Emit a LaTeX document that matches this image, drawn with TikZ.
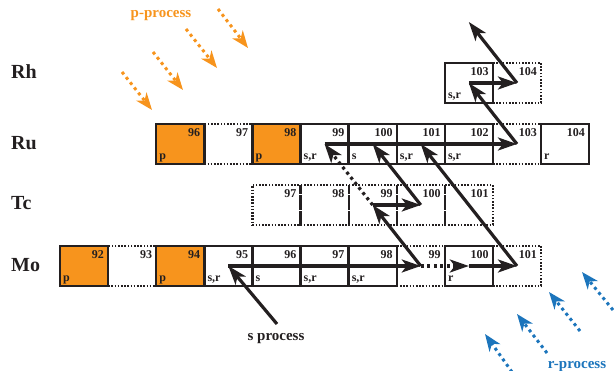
\documentclass[tikz,border=0pt]{standalone}
\usepackage{fontspec}
\setmainfont{Liberation Serif}
\usetikzlibrary{arrows.meta}
\definecolor{porange}{HTML}{F7941D}
\definecolor{rblue}{HTML}{1C75BC}
\definecolor{ink}{HTML}{231F20}
\newcommand\isocell[6]{%
  \node[#2] (#1) at (#3,#4) {};
  \node[numlab] (#1n) at ([xshift=-4pt,yshift=-4pt]#1.north east) {#5};
  \node[lowlab] (#1l) at ([xshift=3pt,yshift=4pt]#1.south west) {#6};
}
\begin{document}
\begin{tikzpicture}[x=1pt,y=-1pt,
  cellbox/.style={minimum width=48.1pt,minimum height=40pt,inner sep=0pt,outer sep=0pt,anchor=north west},
  solidcell/.style={cellbox,draw=ink,line width=2.4pt},
  dotcell/.style={cellbox,draw=ink,line width=2.2pt,dash pattern=on 1.6pt off 1.6pt},
  pcell/.style={solidcell,fill=porange},
  numlab/.style={font=\fontsize{12}{12}\selectfont\bfseries,text=ink,inner sep=0pt,anchor=north east},
  lowlab/.style={font=\fontsize{12}{12}\selectfont\bfseries,text=ink,inner sep=0pt,anchor=base west},
  elem/.style={font=\fontsize{20}{20}\selectfont\bfseries,text=ink,inner sep=0pt,anchor=base west},
  proclab/.style={font=\fontsize{15}{15}\selectfont\bfseries,inner sep=0pt},
  arr/.style={draw=ink,line width=3.2pt,-{Stealth[length=19pt,width=13pt,inset=5pt]}},
  dotarr/.style={arr,dash pattern=on 3pt off 3.5pt},
  parr/.style={draw=porange,line width=3pt,dash pattern=on 3pt off 3.6pt,-{Stealth[length=17pt,width=13pt,inset=5pt]}},
  rarr/.style={draw=rblue,line width=3pt,dash pattern=on 3pt off 3.6pt,-{Stealth[length=17pt,width=13pt,inset=5pt]}}
]
\useasboundingbox (0,0) rectangle (614,371);

% element labels
\node[elem] (lRh) at (11,78.6) {Rh};
\node[elem] (lRu) at (11,150) {Ru};
\node[elem] (lTc) at (11,210) {Tc};
\node[elem] (lMo) at (11,271.5) {Mo};

% solid cells first
\isocell{rh103}{solidcell}{444.8}{63}{103}{s,r}
\isocell{ru96}{pcell}{156.2}{124}{96}{p}
\isocell{ru98}{pcell}{252.4}{124}{98}{p}
\isocell{ru99}{solidcell}{300.5}{124}{99}{s,r}
\isocell{ru100}{solidcell}{348.6}{124}{100}{s}
\isocell{ru101}{solidcell}{396.7}{124}{101}{s,r}
\isocell{ru102}{solidcell}{444.8}{124}{102}{s,r}
\isocell{ru104}{solidcell}{541.0}{124}{104}{r}
\isocell{mo92}{pcell}{60}{246}{92}{p}
\isocell{mo94}{pcell}{156.2}{246}{94}{p}
\isocell{mo95}{solidcell}{204.3}{246}{95}{s,r}
\isocell{mo96}{solidcell}{252.4}{246}{96}{s}
\isocell{mo97}{solidcell}{300.5}{246}{97}{s,r}
\isocell{mo98}{solidcell}{348.6}{246}{98}{s,r}
\isocell{mo100}{solidcell}{444.8}{246}{100}{r}

% dotted cells
\isocell{rh104}{dotcell}{492.9}{63}{104}{}
\isocell{ru97}{dotcell}{204.3}{124}{97}{}
\isocell{ru103}{dotcell}{492.9}{124}{103}{}
\isocell{tc97}{dotcell}{252.4}{185}{97}{}
\isocell{tc98}{dotcell}{300.5}{185}{98}{}
\isocell{tc99}{dotcell}{348.6}{185}{99}{}
\isocell{tc100}{dotcell}{396.7}{185}{100}{}
\isocell{tc101}{dotcell}{444.8}{185}{101}{}
\isocell{mo93}{dotcell}{108.1}{246}{93}{}
\isocell{mo99}{dotcell}{396.7}{246}{99}{}
\isocell{mo101}{dotcell}{492.9}{246}{101}{}

% reaction path
\coordinate (pd104) at ([xshift=-48.1pt,yshift=61pt]rh104.center);
\draw[arr] (mo95.center) -- (mo99.center);
\draw[dotarr] (mo99.center) -- (mo100.center);
\draw[arr] (mo100.center) -- (mo101.center);
\draw[arr] (mo99.center) -- (tc99.center);
\draw[arr] (tc99.center) -- (tc100.center);
\draw[arr] (tc100.center) -- (ru100.center);
\draw[dotarr] (tc99.center) -- (ru99.center);
\draw[arr] (mo101.center) -- (ru101.center);
\draw[arr] (ru99.center) -- (ru103.center);
\draw[arr] (ru103.center) -- (rh103.center);
\draw[arr] (rh103.center) -- (rh104.center);
\draw[arr] (rh104.center) -- (pd104);

% s process
\node[proclab,text=ink] (sproc) at (276,339) {s process};
\coordinate (sstart) at (277,324);
\draw[arr] (sstart) -- (mo95.center);

% p process
\node[proclab,text=porange] (pproc) at (161,16) {p-process};
\coordinate (pa1) at (122,72);  \coordinate (pa2) at (152,110);
\coordinate (pb1) at (153,52);  \coordinate (pb2) at (183,90);
\coordinate (pc1) at (186,29);  \coordinate (pc2) at (217,68);
\coordinate (pd1) at (218,9);   \coordinate (pd2) at (248,48);
\draw[parr] (pa1) -- (pa2);
\draw[parr] (pb1) -- (pb2);
\draw[parr] (pc1) -- (pc2);
\draw[parr] (pd1) -- (pd2);

% r process
\node[proclab,text=rblue] (rproc) at (577,367) {r-process};
\coordinate (ra1) at (512,372); \coordinate (ra2) at (485,334);
\coordinate (rb1) at (547,353); \coordinate (rb2) at (517,314);
\coordinate (rc1) at (580,331); \coordinate (rc2) at (549,292);
\coordinate (rd1) at (613,310); \coordinate (rd2) at (582,272);
\draw[rarr] (ra1) -- (ra2);
\draw[rarr] (rb1) -- (rb2);
\draw[rarr] (rc1) -- (rc2);
\draw[rarr] (rd1) -- (rd2);
\end{tikzpicture}
\end{document}
